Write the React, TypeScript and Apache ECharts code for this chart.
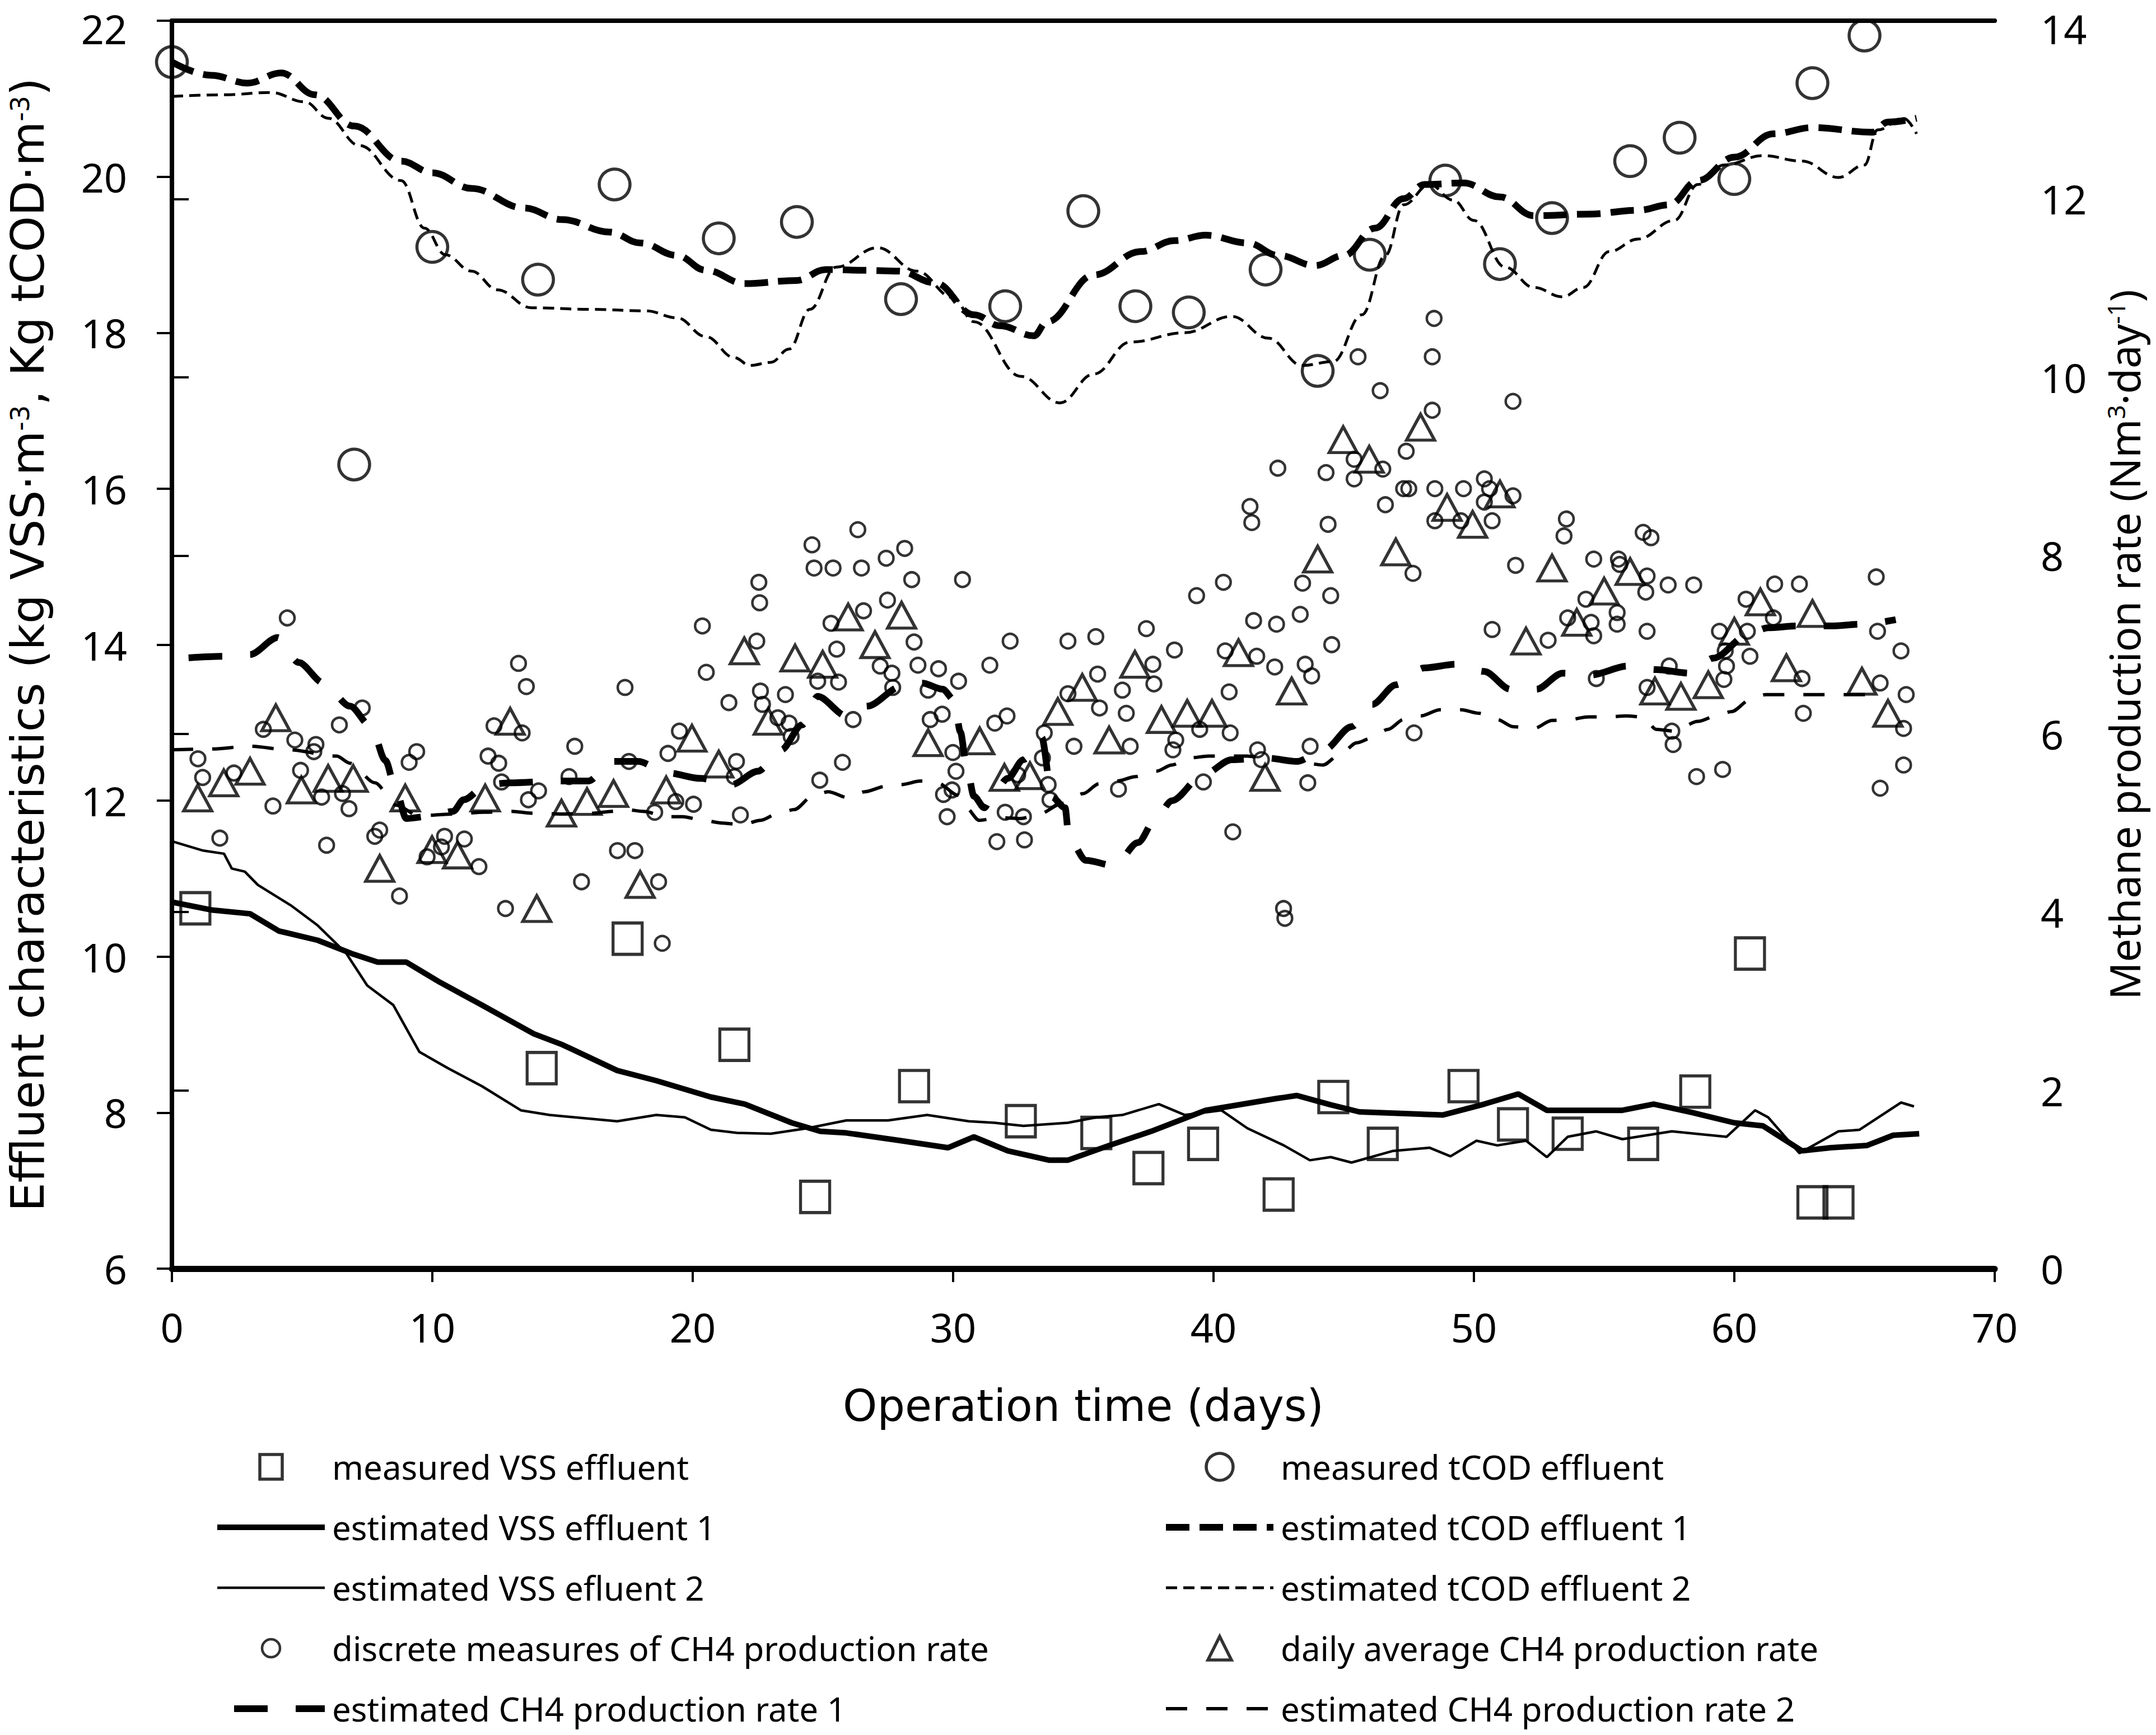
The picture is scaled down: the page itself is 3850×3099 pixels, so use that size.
import React, { useEffect, useRef } from "react";
import * as echarts from "echarts";

// ---------- data (day, value) ----------
const vssMeasured: number[][] = [
  [0.9, 10.62], [14.2, 8.57], [17.5, 10.23], [21.6, 8.87], [24.7, 6.92], [28.5, 8.34],
  [32.6, 7.89], [35.5, 7.74], [37.5, 7.29], [39.6, 7.6], [42.5, 6.95], [44.6, 8.2],
  [46.5, 7.6], [49.6, 8.34], [51.5, 7.85], [53.6, 7.73], [56.5, 7.6], [58.5, 8.27],
  [60.6, 10.04], [63.0, 6.85], [64.0, 6.85],
];

const vssEst1: number[][] = [
  [0, 10.7], [1.5, 10.6], [3.0, 10.55], [4.1, 10.33], [5.6, 10.21], [6.9, 10.04], [7.9, 9.93],
  [9.0, 9.93], [10.3, 9.67], [11.9, 9.38], [13.9, 9.01], [15.0, 8.87], [17.1, 8.54], [18.6, 8.41],
  [20.7, 8.2], [22.0, 8.11], [23.8, 7.87], [24.9, 7.76], [25.9, 7.74], [28.0, 7.64], [29.8, 7.55],
  [30.8, 7.69], [32.1, 7.51], [33.7, 7.39], [34.4, 7.39], [36.0, 7.58], [37.6, 7.76], [39.7, 8.03],
  [42.4, 8.18], [43.2, 8.22], [44.5, 8.1], [45.6, 8.01], [48.8, 7.97], [50.4, 8.11], [51.7, 8.24],
  [52.8, 8.03], [54.1, 8.03], [55.7, 8.03], [56.9, 8.11], [58.4, 8.0], [60.0, 7.87], [61.1, 7.83],
  [62.6, 7.51], [63.7, 7.55], [65.1, 7.58], [66.1, 7.71], [67.1, 7.73],
];

const vssEst2: number[][] = [
  [0, 11.48], [1.2, 11.36], [2.0, 11.32], [2.3, 11.13], [2.8, 11.09], [3.3, 10.92], [4.6, 10.65],
  [5.6, 10.4], [6.7, 10.04], [7.5, 9.63], [8.5, 9.38], [9.5, 8.78], [10.6, 8.57], [11.9, 8.34],
  [13.4, 8.03], [14.5, 7.97], [17.1, 7.89], [18.6, 7.97], [19.7, 7.94], [20.7, 7.78], [21.7, 7.74],
  [23.0, 7.73], [24.4, 7.8], [25.9, 7.9], [27.5, 7.9], [29.0, 7.97], [30.6, 7.89], [31.6, 7.87],
  [32.7, 7.83], [34.4, 7.87], [35.5, 7.94], [36.5, 7.97], [37.9, 8.11], [38.9, 7.97], [40.3, 8.03],
  [41.3, 7.8], [42.7, 7.58], [43.7, 7.39], [44.5, 7.43], [45.3, 7.36], [46.9, 7.51], [48.3, 7.55],
  [49.1, 7.44], [50.1, 7.64], [50.9, 7.58], [52.0, 7.64], [52.8, 7.43], [53.6, 7.69], [54.7, 7.76],
  [55.7, 7.66], [57.6, 7.76], [59.7, 7.69], [60.8, 8.03], [61.3, 7.94], [62.5, 7.48], [64.0, 7.76],
  [64.8, 7.78], [66.4, 8.13], [66.9, 8.08],
];

const tcodMeasured: number[][] = [
  [0, 21.47], [7.0, 16.31], [10.0, 19.1], [14.06, 18.68], [17.0, 19.9], [21.0, 19.21], [24.0, 19.42],
  [28.0, 18.43], [32.0, 18.34], [35.0, 19.56], [37.0, 18.34], [39.05, 18.26], [42.0, 18.81],
  [44.0, 17.51], [46.0, 19.0], [48.9, 19.95], [51.0, 18.88], [53.0, 19.47], [56.0, 20.2],
  [57.9, 20.5], [60.0, 19.97], [63.0, 21.2], [65.0, 21.81],
];

const tcodEst1: number[][] = [
  [0, 21.47], [1.5, 21.3], [2.9, 21.2], [4.2, 21.33], [5.5, 21.05], [7.0, 20.65], [8.8, 20.2],
  [10.0, 20.05], [11.5, 19.85], [13.5, 19.6], [15.0, 19.45], [16.8, 19.29], [18.0, 19.15],
  [19.4, 18.99], [20.5, 18.8], [22.0, 18.63], [24.0, 18.67], [25.1, 18.81], [26.5, 18.8],
  [27.9, 18.79], [29.3, 18.64], [30.8, 18.23], [31.8, 18.09], [33.1, 17.96], [33.6, 18.14],
  [35.4, 18.74], [37.2, 19.04], [38.5, 19.18], [39.7, 19.25], [41.3, 19.15], [42.5, 18.99],
  [43.9, 18.86], [45.0, 18.99], [46.2, 19.34], [47.3, 19.72], [48.1, 19.9], [49.6, 19.92],
  [51.0, 19.74], [52.3, 19.5], [54.4, 19.52], [56.3, 19.57], [57.5, 19.64], [58.6, 19.95],
  [60.0, 20.25], [61.5, 20.55], [63.0, 20.63], [65.3, 20.57], [65.9, 20.7], [67.0, 20.75],
];

const tcodEst2: number[][] = [
  [0, 21.03], [2.0, 21.05], [3.8, 21.08], [5.1, 20.96], [6.0, 20.75], [7.2, 20.4], [8.8, 19.95],
  [9.7, 19.34], [10.5, 19.0], [11.5, 18.79], [12.5, 18.55], [13.8, 18.32], [16.0, 18.3],
  [18.2, 18.28], [19.4, 18.19], [20.5, 17.95], [21.6, 17.68], [22.2, 17.58], [23.0, 17.62],
  [23.7, 17.79], [24.5, 18.3], [25.5, 18.84], [27.1, 19.09], [28.6, 18.79], [30.0, 18.45],
  [30.8, 18.14], [32.6, 17.44], [34.1, 17.1], [35.4, 17.47], [36.8, 17.88], [38.9, 18.0],
  [40.7, 18.21], [42.1, 17.93], [43.4, 17.58], [44.6, 17.63], [45.7, 18.23], [46.6, 18.99],
  [47.3, 19.64], [48.3, 19.9], [49.2, 19.7], [50.0, 19.44], [51.2, 18.84], [52.3, 18.58],
  [53.4, 18.46], [54.2, 18.58], [55.2, 19.04], [56.3, 19.2], [57.7, 19.44], [58.6, 19.9],
  [59.6, 20.15], [61.1, 20.27], [62.6, 20.2], [64.0, 19.99], [65.0, 20.15], [65.5, 20.6],
  [66.5, 20.75], [67.0, 20.55],
];

const ch4Discrete: number[][] = [
  [1.0, 5.72], [1.18, 5.51], [1.84, 4.83], [2.38, 5.56], [3.51, 6.05], [3.88, 5.19], [4.43, 7.3],
  [4.72, 5.93], [4.94, 5.59], [5.45, 5.8], [5.53, 5.88], [5.75, 5.29], [5.94, 4.75], [6.43, 6.1],
  [6.55, 5.33], [6.8, 5.16], [7.31, 6.29], [7.79, 4.85], [7.98, 4.92], [8.74, 4.18], [9.11, 5.68],
  [9.4, 5.8], [9.8, 4.62], [10.35, 4.73], [10.47, 4.85], [11.23, 4.82], [11.79, 4.51], [12.14, 5.75],
  [12.37, 6.09], [12.55, 5.67], [12.66, 5.46], [12.81, 4.04], [13.31, 6.79], [13.45, 6.01],
  [13.61, 6.53], [13.69, 5.26], [14.08, 5.36], [15.25, 5.52], [15.47, 5.86], [15.73, 4.34],
  [17.11, 4.69], [17.4, 6.52], [17.55, 5.69], [17.78, 4.69], [18.54, 5.12], [18.69, 4.34],
  [18.83, 3.65], [19.05, 5.78], [19.35, 5.24], [19.49, 6.03], [20.03, 5.21], [20.37, 7.21],
  [20.52, 6.69], [21.39, 6.35], [21.6, 5.52], [21.68, 5.69], [21.83, 5.09],
  [22.46, 7.04], [22.54, 7.7], [22.57, 7.47], [22.6, 6.48], [22.68, 6.33], [23.27, 6.18],
  [23.56, 6.44], [23.7, 6.12], [23.78, 5.97], [24.58, 8.12], [24.66, 7.86], [24.8, 6.59],
  [24.88, 5.48], [25.31, 7.24], [25.39, 7.86], [25.53, 6.95], [25.6, 6.58], [25.75, 5.68],
  [26.16, 6.16], [26.34, 8.29], [26.48, 7.86], [26.56, 7.38], [27.2, 6.76], [27.43, 7.97],
  [27.48, 7.5], [27.65, 6.68], [27.68, 6.52], [28.14, 8.08], [28.41, 7.73], [28.5, 7.03],
  [28.65, 6.77], [29.04, 6.49], [29.12, 6.16], [29.44, 6.73], [29.58, 6.22], [29.63, 5.32],
  [29.77, 5.07], [29.96, 5.37], [29.99, 5.79], [30.11, 5.58], [30.21, 6.59], [30.36, 7.73],
  [31.41, 6.77], [31.6, 6.12], [31.68, 4.79], [32.0, 5.12], [32.07, 6.2], [32.19, 7.04],
  [32.48, 5.54], [32.7, 5.07], [32.74, 4.81], [33.43, 5.73], [33.5, 6.01], [33.65, 5.43],
  [33.72, 5.26], [34.41, 7.04], [34.41, 6.45], [34.64, 5.86], [35.48, 7.09], [35.55, 6.67],
  [35.62, 6.29], [36.35, 5.38], [36.5, 6.49], [36.65, 6.23], [36.8, 5.86], [37.42, 7.18],
  [37.67, 6.78], [37.71, 6.56], [38.44, 5.82], [38.5, 6.94], [38.55, 5.93], [39.35, 7.55],
  [39.47, 6.05], [39.61, 5.46], [40.38, 7.7], [40.45, 6.93], [40.6, 6.47], [40.64, 6.01],
  [40.74, 4.9], [41.4, 8.55], [41.47, 8.37], [41.54, 7.27], [41.66, 6.87], [41.69, 5.82],
  [41.84, 5.71], [42.35, 6.75], [42.42, 7.23], [42.47, 8.98], [42.69, 4.04], [42.74, 3.93],
  [43.33, 7.34], [43.42, 7.69], [43.52, 6.78], [43.62, 5.45], [43.71, 5.86], [43.77, 6.65],
  [44.32, 8.93], [44.4, 8.35], [44.5, 7.55], [44.54, 7.0],
  [45.4, 9.08], [45.4, 8.86], [45.55, 10.23], [46.4, 9.85], [46.5, 8.97], [46.6, 8.57],
  [47.3, 8.75], [47.4, 9.17], [47.5, 8.75], [47.66, 7.8], [47.7, 6.01], [48.4, 10.23],
  [48.47, 10.66], [48.4, 9.63], [48.5, 8.75], [48.5, 8.39], [49.5, 8.39], [49.6, 8.75],
  [50.4, 8.86], [50.4, 8.6], [50.6, 8.75], [50.7, 8.39], [50.7, 7.17], [51.5, 9.73], [51.5, 8.67],
  [51.6, 7.89], [52.85, 7.05], [53.46, 8.22], [53.55, 8.41], [53.6, 7.3], [54.3, 7.51],
  [54.5, 7.25], [54.6, 7.1], [54.6, 7.96], [54.7, 6.62], [55.5, 7.36], [55.5, 7.23], [55.55, 7.96],
  [55.6, 7.9], [56.5, 8.26], [56.6, 7.59], [56.65, 7.77], [56.65, 7.15], [56.65, 6.52], [56.8, 8.2],
  [57.46, 7.67], [57.5, 6.76], [57.6, 6.03], [57.65, 5.88], [58.44, 7.67], [58.55, 5.52],
  [59.43, 7.15], [59.55, 5.6], [59.6, 6.61], [59.65, 6.93], [59.7, 6.76], [60.45, 7.51],
  [60.5, 7.15], [60.6, 6.87], [61.5, 7.3], [61.55, 7.68], [62.5, 7.68], [62.6, 6.62], [62.65, 6.23],
  [65.45, 7.76], [65.5, 7.15], [65.6, 6.57], [65.6, 5.39], [66.4, 6.93], [66.5, 6.06], [66.5, 5.65],
  [66.6, 6.44],
];

const ch4Daily: number[][] = [
  [0.99, 5.28], [1.99, 5.45], [3.0, 5.58], [3.99, 6.18], [4.97, 5.37], [6.0, 5.5], [6.96, 5.5],
  [7.98, 4.49], [8.96, 5.28], [9.99, 4.7], [10.97, 4.64], [12.03, 5.28], [12.99, 6.14],
  [14.01, 4.04], [14.96, 5.11], [15.94, 5.24], [16.96, 5.33], [17.98, 4.31], [18.98, 5.37],
  [19.97, 5.95], [21.0, 5.66], [21.98, 6.93], [22.9, 6.14], [23.93, 6.85], [24.99, 6.78],
  [25.97, 7.31], [27.0, 7.0], [28.02, 7.33], [29.04, 5.9], [31.02, 5.92], [31.97, 5.51],
  [32.95, 5.53], [34.02, 6.25], [34.96, 6.52], [35.99, 5.93], [36.98, 6.78], [38.0, 6.16],
  [38.99, 6.23], [39.94, 6.23], [40.96, 6.91], [41.98, 5.51], [43.0, 6.48], [44.0, 7.96],
  [44.98, 9.3], [45.98, 9.08], [47.0, 8.04], [47.95, 9.44], [48.97, 8.54], [49.95, 8.35],
  [51.0, 8.69], [52.0, 7.04], [53.0, 7.86], [53.95, 7.25], [55.0, 7.6], [56.0, 7.82],
  [56.95, 6.48], [57.95, 6.42], [59.0, 6.55], [60.0, 7.15], [61.0, 7.48], [62.0, 6.74],
  [63.0, 7.35], [64.9, 6.59], [65.9, 6.23],
];

const ch4Est1: number[][] = [
  [0, 6.84], [1.95, 6.87], [3.0, 6.89], [4.06, 7.08], [4.87, 6.8], [5.82, 6.57], [6.84, 6.31],
  [7.65, 6.08], [8.2, 5.7], [8.6, 5.37], [9.0, 5.05], [10.0, 5.08], [10.8, 5.13], [11.2, 5.26],
  [12.1, 5.43], [13.0, 5.45], [14.8, 5.47], [16.0, 5.47], [16.86, 5.69], [17.9, 5.69],
  [19.05, 5.56], [20.3, 5.5], [21.5, 5.43], [22.5, 5.58], [23.4, 5.82], [24.2, 6.1], [24.8, 6.42],
  [25.9, 6.2], [26.7, 6.31], [28.0, 6.53], [28.8, 6.57], [29.6, 6.5], [30.04, 6.38], [30.28, 6.02],
  [30.5, 5.67], [30.8, 5.3], [31.2, 5.17], [31.5, 5.31], [32.1, 5.5], [32.7, 5.71], [33.4, 5.96],
  [33.8, 5.29], [34.3, 5.17], [34.45, 4.83], [35.1, 4.58], [36.2, 4.52], [37.1, 4.78],
  [37.8, 5.06], [38.4, 5.25], [39.6, 5.54], [40.7, 5.71], [42.0, 5.73], [43.2, 5.69],
  [44.25, 5.82], [45.3, 6.08], [46.1, 6.33], [47.0, 6.55], [48.1, 6.74], [49.3, 6.78],
  [50.4, 6.7], [51.4, 6.5], [52.4, 6.5], [53.4, 6.68], [54.5, 6.66], [55.9, 6.76], [57.0, 6.72],
  [58.3, 6.68], [59.2, 6.85], [60.6, 7.13], [61.3, 7.19], [62.4, 7.21], [63.7, 7.21],
  [64.9, 7.23], [66.2, 7.28],
];

const ch4Est2: number[][] = [
  [0, 5.82], [1.5, 5.83], [3.0, 5.86], [4.5, 5.82], [6.33, 5.75], [6.84, 5.67], [7.8, 5.45],
  [8.6, 5.2], [9.5, 5.08], [10.8, 5.1], [12.0, 5.12], [13.06, 5.13], [13.8, 5.11], [15.0, 5.1],
  [16.2, 5.11], [16.9, 5.13], [17.45, 5.15], [18.1, 5.13], [19.0, 5.07], [19.6, 5.07],
  [20.4, 5.03], [21.1, 5.0], [21.9, 4.98], [22.6, 5.03], [23.3, 5.11], [23.9, 5.15], [24.6, 5.3],
  [25.2, 5.35], [26.0, 5.28], [26.6, 5.35], [27.4, 5.41], [28.0, 5.43], [28.75, 5.47],
  [29.4, 5.45], [30.2, 5.31], [30.5, 5.17], [31.0, 5.03], [31.75, 5.06], [32.6, 5.05],
  [33.3, 5.1], [34.2, 5.22], [35.0, 5.33], [35.6, 5.44], [36.3, 5.47], [37.0, 5.52], [37.8, 5.58],
  [38.4, 5.65], [39.1, 5.73], [39.8, 5.75], [40.6, 5.75], [41.3, 5.75], [42.1, 5.71],
  [42.9, 5.69], [43.6, 5.67], [44.2, 5.65], [44.9, 5.78], [45.5, 5.9], [46.05, 5.95],
  [46.7, 6.05], [47.3, 6.16], [47.95, 6.2], [48.7, 6.27], [49.5, 6.27], [50.2, 6.23],
  [50.9, 6.16], [51.5, 6.08], [52.3, 6.06], [53.0, 6.15], [53.65, 6.16], [54.4, 6.19],
  [55.1, 6.19], [55.85, 6.2], [56.5, 6.19], [57.0, 6.05], [57.7, 6.03], [58.6, 6.14], [59.3, 6.2],
  [59.9, 6.25], [60.6, 6.38], [61.2, 6.44], [62.0, 6.44], [63.0, 6.44], [64.2, 6.44], [65.4, 6.44],
];

// ---------- names ----------
const N = {
  vssMeas: "measured VSS effluent",
  vssEst1: "estimated VSS effluent 1",
  vssEst2: "estimated VSS efluent 2",
  ch4Disc: "discrete measures of CH4 production rate",
  ch4Est1: "estimated CH4 production rate 1",
  tcodMeas: "measured tCOD effluent",
  tcodEst1: "estimated tCOD effluent 1",
  tcodEst2: "estimated tCOD effluent 2",
  ch4Daily: "daily average CH4 production rate",
  ch4Est2: "estimated CH4 production rate 2",
};

const BLACK = "#000";
const HOLLOW = "rgba(255,255,255,0)";
const TICK_FONT = "Noto Sans";
const TITLE_FONT = "DejaVu Sans";

// legend icons (48x48 frame so the library keeps their size)
const ICON_SQUARE = "path://M0 0M48 48M4 2H44V46H4Z";
const ICON_SMALL_CIRCLE = "path://M0 0M48 48M8 24A16 16 0 1 1 40 24A16 16 0 1 1 8 24Z";
const ICON_TRIANGLE = "path://M0 0M48 48M24 3L45 45H3Z";

function buildOption(): any {
  const hollowStyle = (bw: number) => ({ color: HOLLOW, borderColor: BLACK, borderWidth: bw });
  const blackItem = { color: BLACK };
  const noSymbol = { itemStyle: { opacity: 0 } };
  const legendCommon = {
    orient: "vertical",
    top: 2590,
    itemWidth: 192,
    itemHeight: 48,
    itemGap: 48,
    padding: 0,
    selectedMode: false,
    symbolKeepAspect: true,
    textStyle: {
      fontFamily: TICK_FONT,
      fontSize: 60,
      color: BLACK,
      lineHeight: 60,
      padding: [0, 0, 0, 8],
    },
    lineStyle: { width: "inherit" },
    itemStyle: { borderWidth: "inherit" },
  };
  const yLabel = {
    fontFamily: TICK_FONT,
    fontSize: 72,
    color: BLACK,
    lineHeight: 28,
    verticalAlignMaxLabel: "top",
  };
  return {
    animation: false,
    backgroundColor: "#fff",
    grid: { left: 295, right: 288, top: 37, bottom: 833, containLabel: false },
    legend: [
      {
        ...legendCommon,
        left: 382,
        data: [
          { name: N.vssMeas, icon: ICON_SQUARE },
          { name: N.vssEst1, ...noSymbol },
          { name: N.vssEst2, ...noSymbol },
          { name: N.ch4Disc, icon: ICON_SMALL_CIRCLE },
          { name: N.ch4Est1, ...noSymbol },
        ],
      },
      {
        ...legendCommon,
        left: 2076,
        data: [
          N.tcodMeas,
          { name: N.tcodEst1, ...noSymbol },
          { name: N.tcodEst2, ...noSymbol },
          { name: N.ch4Daily, icon: ICON_TRIANGLE },
          { name: N.ch4Est2, ...noSymbol },
        ],
      },
    ],
    xAxis: [
      {
        type: "value",
        position: "bottom",
        min: 0,
        max: 70,
        interval: 10,
        name: "Operation time (days)",
        nameLocation: "middle",
        nameGap: 206,
        nameTextStyle: { fontFamily: TITLE_FONT, fontSize: 78, color: BLACK },
        axisLine: { show: true, lineStyle: { color: BLACK, width: 11 } },
        axisTick: { show: true, inside: false, length: 24, lineStyle: { color: BLACK, width: 4 } },
        axisLabel: { margin: 68, fontFamily: TICK_FONT, fontSize: 72, color: BLACK },
        splitLine: { show: false },
      },
      {
        type: "value",
        position: "top",
        min: 0,
        max: 70,
        interval: 10,
        axisLine: { show: true, lineStyle: { color: BLACK, width: 8 } },
        axisTick: { show: false },
        axisLabel: { show: false },
        splitLine: { show: false },
      },
    ],
    yAxis: [
      {
        type: "value",
        position: "left",
        min: 6,
        max: 22,
        interval: 2,
        name: "{t|Effluent characteristics (kg VSS·m}{s|-3}{t|, Kg tCOD·m}{s|-3}{t|)}",
        nameLocation: "middle",
        nameGap: 222,
        nameTextStyle: {
          fontFamily: TITLE_FONT,
          fontSize: 82,
          color: BLACK,
          rich: {
            t: { fontFamily: TITLE_FONT, fontSize: 82, color: BLACK, lineHeight: 72 },
            s: { fontFamily: TITLE_FONT, fontSize: 46, color: BLACK, lineHeight: 44, verticalAlign: "top" },
          },
        },
        axisLine: { show: true, lineStyle: { color: BLACK, width: 8 } },
        axisTick: { show: true, inside: false, length: 27, lineStyle: { color: BLACK, width: 4 } },
        axisLabel: { margin: 80, ...yLabel },
        splitLine: { show: false },
      },
      {
        type: "value",
        position: "right",
        min: 0,
        max: 14,
        interval: 2,
        name: "{t|Methane production rate (Nm}{s|3}{t|·day}{s|-1}{t|)}",
        nameLocation: "middle",
        nameGap: 194,
        nameTextStyle: {
          fontFamily: TICK_FONT,
          fontSize: 74,
          color: BLACK,
          rich: {
            t: { fontFamily: TICK_FONT, fontSize: 74, color: BLACK, lineHeight: 74 },
            s: { fontFamily: TICK_FONT, fontSize: 44, color: BLACK, lineHeight: 48, verticalAlign: "top" },
          },
        },
        axisLine: { show: true, lineStyle: { color: BLACK, width: 8 } },
        axisTick: { show: true, inside: false, length: 30, lineStyle: { color: BLACK, width: 4 } },
        axisLabel: { margin: 82, ...yLabel },
        splitLine: { show: false },
      },
    ],
    series: [
      {
        name: N.vssMeas, type: "scatter", xAxisIndex: 0, yAxisIndex: 0, data: vssMeasured,
        symbol: "rect", symbolSize: [52, 56], itemStyle: hollowStyle(5.5), silent: true, z: 4,
      },
      {
        name: N.vssEst1, type: "line", xAxisIndex: 0, yAxisIndex: 0, data: vssEst1,
        symbol: "none", itemStyle: blackItem, lineStyle: { color: BLACK, width: 10 }, silent: true, z: 3,
      },
      {
        name: N.vssEst2, type: "line", xAxisIndex: 0, yAxisIndex: 0, data: vssEst2,
        symbol: "none", itemStyle: blackItem, lineStyle: { color: BLACK, width: 4.5 }, silent: true, z: 3,
      },
      {
        name: N.ch4Disc, type: "scatter", xAxisIndex: 0, yAxisIndex: 1, data: ch4Discrete,
        symbol: "circle", symbolSize: 26, itemStyle: hollowStyle(4.5), silent: true, z: 4,
      },
      {
        name: N.ch4Est1, type: "line", xAxisIndex: 0, yAxisIndex: 1, data: ch4Est1,
        symbol: "none", smooth: 0.3, smoothMonotone: "x", itemStyle: blackItem,
        lineStyle: { color: BLACK, width: 12, type: [60, 50], dashOffset: -30 }, silent: true, z: 3,
      },
      {
        name: N.tcodMeas, type: "scatter", xAxisIndex: 0, yAxisIndex: 0, data: tcodMeasured,
        symbol: "circle", symbolSize: 55, itemStyle: hollowStyle(5.5), silent: true, z: 4,
      },
      {
        name: N.tcodEst1, type: "line", xAxisIndex: 0, yAxisIndex: 0, data: tcodEst1,
        symbol: "none", smooth: 0.4, smoothMonotone: "x", itemStyle: blackItem,
        lineStyle: { color: BLACK, width: 12, type: [42, 18] }, silent: true, z: 3,
      },
      {
        name: N.tcodEst2, type: "line", xAxisIndex: 0, yAxisIndex: 0, data: tcodEst2,
        symbol: "none", smooth: 0.4, smoothMonotone: "x", itemStyle: blackItem,
        lineStyle: { color: BLACK, width: 5, type: [20, 11] }, silent: true, z: 3,
      },
      {
        name: N.ch4Daily, type: "scatter", xAxisIndex: 0, yAxisIndex: 1, data: ch4Daily,
        symbol: "triangle", symbolSize: [50, 46], itemStyle: hollowStyle(5.5), silent: true, z: 4,
      },
      {
        name: N.ch4Est2, type: "line", xAxisIndex: 0, yAxisIndex: 1, data: ch4Est2,
        symbol: "none", smooth: 0.3, smoothMonotone: "x", itemStyle: blackItem,
        lineStyle: { color: BLACK, width: 6, type: [38, 34] }, silent: true, z: 3,
      },
    ],
  };
}

export default function App() {
  const ref = useRef<HTMLDivElement>(null);
  useEffect(() => {
    if (!ref.current) return;
    const prevMargin = document.body.style.margin;
    document.body.style.margin = "0";
    const chart = echarts.init(ref.current, null, { renderer: "svg" });
    chart.setOption(buildOption());
    return () => {
      chart.dispose();
      document.body.style.margin = prevMargin;
    };
  }, []);
  return <div ref={ref} style={{ width: 3850, height: 3099, background: "#fff" }} />;
}
